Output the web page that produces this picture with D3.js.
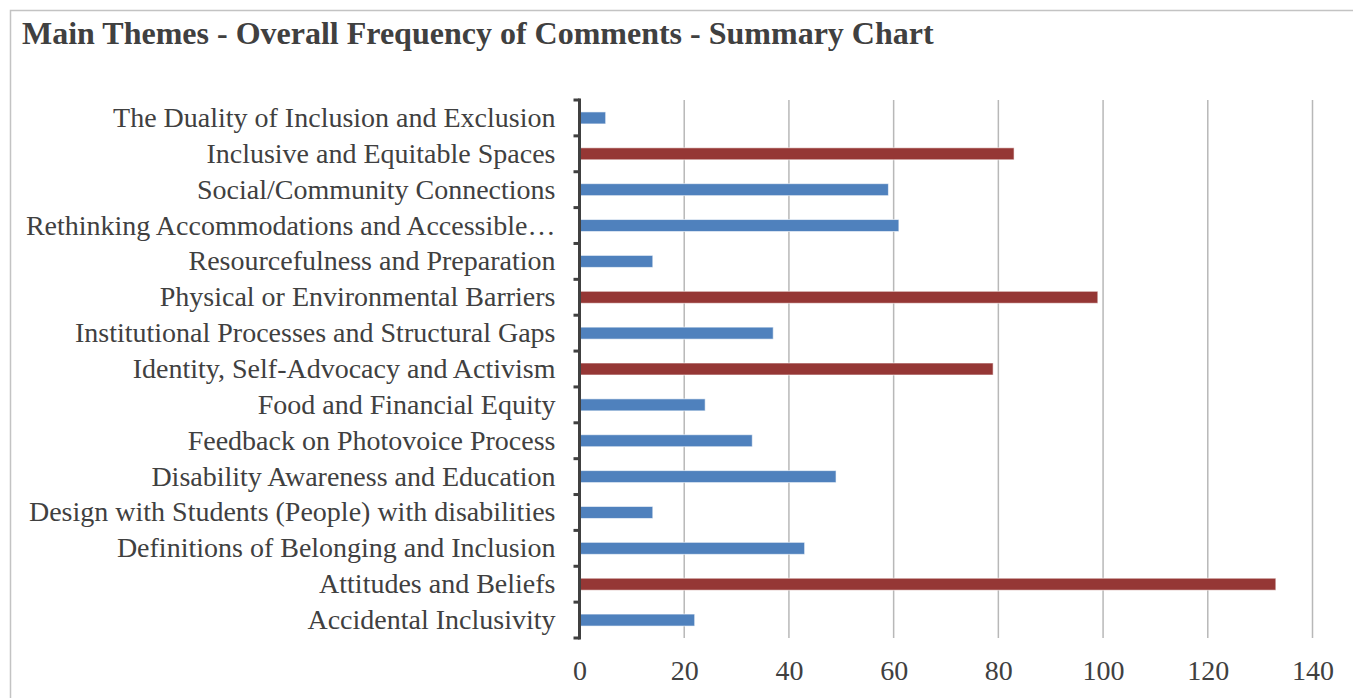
<!DOCTYPE html>
<html>
<head>
<meta charset="utf-8">
<script src="https://cdn.jsdelivr.net/npm/d3@7"></script>
<style>
  body { margin: 0; background: #fff; }
  text { font-family: "Liberation Serif", "Times New Roman", serif; fill: #404040; }
</style>
</head>
<body>
<div id="chart"></div>
<script>
// themes, top to bottom as they appear in the chart
var themes = [
  "The Duality of Inclusion and Exclusion",
  "Inclusive and Equitable Spaces",
  "Social/Community Connections",
  "Rethinking Accommodations and Accessible\u2026",
  "Resourcefulness and Preparation",
  "Physical or Environmental Barriers",
  "Institutional Processes and Structural Gaps",
  "Identity, Self-Advocacy and Activism",
  "Food and Financial Equity",
  "Feedback on Photovoice Process",
  "Disability Awareness and Education",
  "Design with Students (People) with disabilities",
  "Definitions of Belonging and Inclusion",
  "Attitudes and Beliefs",
  "Accidental Inclusivity"
];
var counts = [5, 83, 59, 61, 14, 99, 37, 79, 24, 33, 49, 14, 43, 133, 22];
// themes drawn in red
var highlighted = ["Inclusive and Equitable Spaces", "Physical or Environmental Barriers",
  "Identity, Self-Advocacy and Activism", "Attitudes and Beliefs"];
var xTicks = [0, 20, 40, 60, 80, 100, 120, 140];

var W = 1353, H = 698;
var margin = {top: 100, right: 40, bottom: 60, left: 579.5};
var width = 1312.5 - margin.left,
    height = 638 - margin.top;

var svg = d3.select("#chart").append("svg")
    .attr("width", W)
    .attr("height", H);

// outer frame
svg.append("rect")
    .attr("x", 10.5).attr("y", 10.5)
    .attr("width", W).attr("height", H)
    .attr("fill", "none")
    .attr("stroke", "#c3c3c3")
    .attr("stroke-width", 1.5);

svg.append("text")
    .attr("x", 22)
    .attr("y", 44)
    .style("font-size", "32px")
    .style("font-weight", "bold")
    .text("Main Themes - Overall Frequency of Comments - Summary Chart");

var g = svg.append("g")
    .attr("transform", "translate(" + margin.left + "," + margin.top + ")");

var x = d3.scaleLinear().domain([0, 140]).range([0, width]);
var y = d3.scaleBand().domain(themes).range([0, height]).padding(0);

// vertical gridlines
g.selectAll(".grid")
  .data(xTicks.filter(function(d) { return d > 0; }))
  .enter().append("line")
    .attr("class", "grid")
    .attr("x1", function(d) { return x(d); })
    .attr("x2", function(d) { return x(d); })
    .attr("y1", 0)
    .attr("y2", height)
    .attr("stroke", "#b8b8b8")
    .attr("stroke-width", 1.5);

var barH = 12;
g.selectAll(".bar")
  .data(themes)
  .enter().append("rect")
    .attr("class", "bar")
    .attr("x", x(0))
    .attr("y", function(d) { return y(d) + y.bandwidth() / 2 - barH / 2; })
    .attr("width", function(d, i) { return x(counts[i]) - x(0); })
    .attr("height", barH)
    .attr("fill", function(d) { return highlighted.indexOf(d) >= 0 ? "#953735" : "#4f81bd"; })
    .attr("stroke", "#ffffff")
    .attr("stroke-opacity", 0.6)
    .attr("stroke-width", 1);

// category axis
var yAxis = d3.axisLeft(y).tickSize(0).tickPadding(24);
var ya = g.append("g").call(yAxis);
ya.select(".domain").remove();
ya.selectAll("text")
    .style("font-size", "28px")
    .attr("fill", "#404040");

// axis line with ticks at the category boundaries
var bounds = d3.range(themes.length + 1).map(function(i) { return i * y.step(); });
g.selectAll(".ytick")
  .data(bounds)
  .enter().append("line")
    .attr("class", "ytick")
    .attr("x1", -6).attr("x2", 0)
    .attr("y1", function(d) { return d; })
    .attr("y2", function(d) { return d; })
    .attr("stroke", "#404040")
    .attr("stroke-width", 3);
g.append("line")
    .attr("x1", 0).attr("x2", 0)
    .attr("y1", -1.5).attr("y2", height + 1.5)
    .attr("stroke", "#404040")
    .attr("stroke-width", 3);

// value axis labels
var xAxis = d3.axisBottom(x).tickValues(xTicks).tickSize(0).tickPadding(22);
var xa = g.append("g")
    .attr("transform", "translate(0," + height + ")")
    .call(xAxis);
xa.select(".domain").remove();
xa.selectAll("text")
    .style("font-size", "28px")
    .attr("fill", "#404040");
</script>
</body>
</html>
